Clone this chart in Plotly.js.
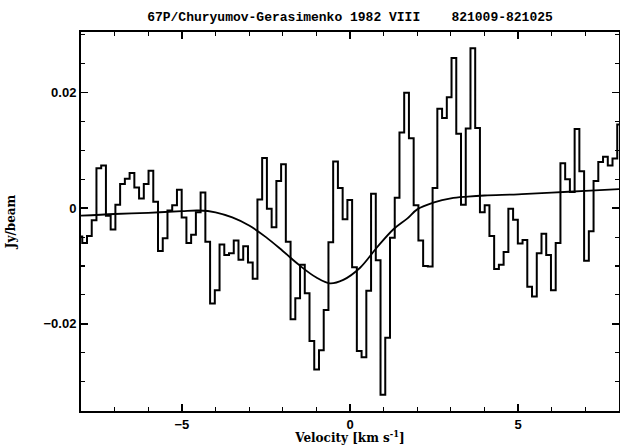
<!DOCTYPE html>
<html>
<head>
<meta charset="utf-8">
<script src="https://cdn.plot.ly/plotly-3.0.1.min.js"></script>
<style>html,body{margin:0;padding:0;background:#fff;}</style>
</head>
<body>
<div id="chart" style="width:620px;height:445px;"></div>
<script>
// Channel velocities (km/s), bin centres
var velocity = [-8.033,-7.892,-7.751,-7.611,-7.470,-7.329,-7.188,-7.047,-6.907,-6.766,
-6.625,-6.484,-6.343,-6.203,-6.062,-5.921,-5.780,-5.639,-5.499,-5.358,
-5.217,-5.076,-4.935,-4.795,-4.654,-4.513,-4.372,-4.231,-4.091,-3.950,
-3.809,-3.668,-3.527,-3.387,-3.246,-3.105,-2.964,-2.823,-2.683,-2.542,
-2.401,-2.260,-2.119,-1.979,-1.838,-1.697,-1.556,-1.415,-1.275,-1.134,
-0.993,-0.852,-0.711,-0.571,-0.430,-0.289,-0.148,-0.007,0.133,0.274,
0.415,0.556,0.697,0.837,0.978,1.119,1.260,1.401,1.541,1.682,
1.823,1.964,2.105,2.245,2.386,2.527,2.668,2.809,2.949,3.090,
3.231,3.372,3.513,3.653,3.794,3.935,4.076,4.217,4.357,4.498,
4.639,4.780,4.921,5.061,5.202,5.343,5.484,5.625,5.765,5.906,
6.047,6.188,6.329,6.469,6.610,6.751,6.892,7.033,7.173,7.314,
7.455,7.596,7.737,7.877,8.018];

// Flux density (Jy/beam) per channel
var flux = [-0.0049,-0.0060,-0.0048,-0.0021,0.0069,0.0074,-0.0013,-0.0037,0.0006,0.0042,
0.0051,0.0061,0.0036,0.0017,0.0042,0.0065,0.0011,-0.0074,-0.0052,-0.0004,
0.0005,0.0032,-0.0016,-0.0060,-0.0046,-0.0007,0.0027,-0.0058,-0.0165,-0.0142,
-0.0063,-0.0081,-0.0078,-0.0056,-0.0089,-0.0066,-0.0094,-0.0122,0.0015,0.0087,
-0.0001,-0.0033,0.0047,0.0076,-0.0058,-0.0192,-0.0156,-0.0098,-0.0147,-0.0230,
-0.0279,-0.0246,-0.0176,-0.0059,0.0081,0.0035,-0.0019,0.0014,-0.0102,-0.0247,
-0.0258,-0.0143,0.0025,-0.0090,-0.0323,-0.0224,-0.0051,0.0018,0.0131,0.0200,
0.0121,0.0005,-0.0056,-0.0100,-0.0101,0.0035,0.0172,0.0156,0.0192,0.0260,
0.0129,0.0006,0.0138,0.0277,0.0139,-0.0007,0.0005,-0.0048,-0.0105,-0.0098,
-0.0076,-0.0001,-0.0020,-0.0061,-0.0055,-0.0136,-0.0153,-0.0078,-0.0044,-0.0081,
-0.0142,-0.0060,0.0078,0.0050,0.0028,0.0137,0.0064,-0.0091,-0.0040,0.0047,
0.0080,0.0089,0.0074,0.0086,0.0145];

// Fitted profile
var fitVelocity = [-8.0,-7.0,-6.0,-5.0,-4.5,-4.0,-3.5,-3.0,-2.5,-2.0,-1.5,-1.0,-0.6,-0.2,0.3,0.8,1.3,1.7,2.0,2.5,3.0,3.5,4.0,5.0,6.0,7.0,8.0];
var fitFlux = [-0.0013,-0.0010,-0.0008,-0.0005,-0.0004,-0.0007,-0.0016,-0.0030,-0.0050,-0.0074,-0.0099,-0.0120,-0.0130,-0.0124,-0.0103,-0.0068,-0.0036,-0.0018,-0.0002,0.0010,0.0017,0.0020,0.0022,0.0024,0.0027,0.0030,0.0033];

var xTickVals = [-5, 0, 5];
var yTickVals = [-0.02, 0, 0.02];
var titleText = '67P/Churyumov-Gerasimenko 1982 VIII\u00a0\u00a0\u00a0\u00a0821009-821025';
var xTitle = 'Velocity [km s<sup>-1</sup>]';
var yTitle = 'Jy/beam';

var traces = [
  {x: velocity, y: flux, type: 'scatter', mode: 'lines',
   line: {shape: 'hvh', color: '#000', width: 2}, hoverinfo: 'skip'},
  {x: fitVelocity, y: fitFlux, type: 'scatter', mode: 'lines',
   line: {shape: 'spline', smoothing: 1, color: '#000', width: 1.8}, hoverinfo: 'skip'}
];

var tickFont = {family: 'Liberation Sans, Arial, sans-serif', size: 13, color: '#000', weight: 'bold'};
var labFont = {family: 'DejaVu Serif, Liberation Serif, serif', size: 12, color: '#000', weight: 'bold'};

var layout = {
  width: 620, height: 445,
  margin: {l: 81, r: 1, t: 32, b: 34},
  paper_bgcolor: '#fff', plot_bgcolor: '#fff',
  showlegend: false,
  title: {text: titleText, x: 0.5, xref: 'paper', xanchor: 'center',
          y: 0.962, yref: 'container', yanchor: 'middle',
          font: {family: 'Liberation Mono, Courier New, monospace', size: 13, color: '#000', weight: 'bold'}},
  xaxis: {
    range: [-8, 8], tickvals: xTickVals, ticktext: ['\u22125', '0', '5'],
    showgrid: false, zeroline: false,
    showline: true, linecolor: '#000', linewidth: 2, mirror: 'ticks',
    ticks: 'inside', ticklen: 7, tickwidth: 1.5, tickcolor: '#000',
    minor: {dtick: 1, ticks: 'inside', ticklen: 4, tickwidth: 1.2, tickcolor: '#000', showgrid: false},
    tickfont: tickFont,
    title: {text: xTitle, font: labFont, standoff: 2}
  },
  yaxis: {
    range: [-0.0351, 0.0305], tickvals: yTickVals, ticktext: ['\u22120.02', '0', '0.02'],
    showgrid: false, zeroline: false,
    showline: true, linecolor: '#000', linewidth: 2, mirror: 'ticks',
    ticks: 'inside', ticklen: 7, tickwidth: 1.5, tickcolor: '#000',
    minor: {dtick: 0.005, ticks: 'inside', ticklen: 4, tickwidth: 1.2, tickcolor: '#000', showgrid: false},
    tickfont: tickFont,
    title: {text: yTitle, font: labFont, standoff: 25}
  }
};

Plotly.newPlot('chart', traces, layout, {displayModeBar: false, staticPlot: true});
</script>
</body>
</html>
